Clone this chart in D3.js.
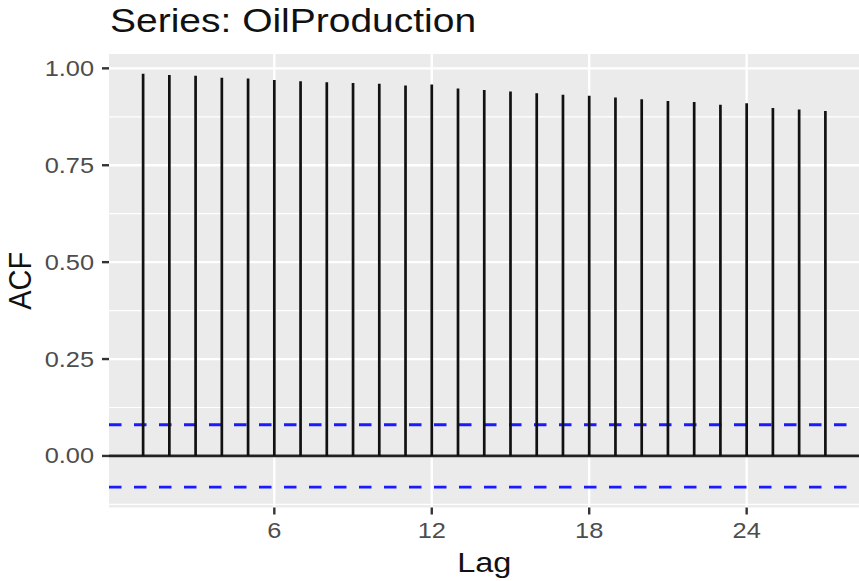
<!DOCTYPE html>
<html>
<head>
<meta charset="utf-8">
<script src="https://cdn.jsdelivr.net/npm/d3@7"></script>
<style>
  html, body { margin: 0; padding: 0; background: #fff; }
  svg { display: block; }
  text { font-family: "Liberation Sans", Arial, Helvetica, sans-serif; }
</style>
</head>
<body>
<script>
// ---- data ----
const lags = [1,2,3,4,5,6,7,8,9,10,11,12,13,14,15,16,17,18,19,20,21,22,23,24,25,26,27];
const acf  = [0.986,0.983,0.981,0.976,0.974,0.970,0.967,0.964,0.962,0.960,0.956,0.958,0.948,0.944,
              0.940,0.936,0.932,0.929,0.925,0.920,0.916,0.913,0.906,0.910,0.898,0.894,0.890];
const ciLimit = 0.0805;
const xTicks = [6,12,18,24];
const yTicks = [0,0.25,0.5,0.75,1.0];
const yTickLabels = ["0.00","0.25","0.50","0.75","1.00"];
const yMinor = [-0.125,0.125,0.375,0.625,0.875];
const titleText = "Series: OilProduction";
const xLabel = "Lag";
const yLabel = "ACF";

// ---- layout ----
const W = 859, H = 581;
const panel = {left: 109, right: 859.5, top: 54, bottom: 507.5};
const sx = 1.18; // horizontal glyph stretch of the reference

const svg = d3.select("body").append("svg").attr("width", W).attr("height", H);

const x = d3.scaleLinear().domain([-0.3, 28.3]).range([panel.left, panel.right]);
const y = d3.scaleLinear().domain([-0.133, 1.037]).range([panel.bottom, panel.top]);

// panel background
svg.append("rect")
  .attr("x", panel.left).attr("y", panel.top)
  .attr("width", panel.right - panel.left).attr("height", panel.bottom - panel.top)
  .attr("fill", "#EBEBEB");

// minor gridlines
svg.append("g").selectAll("line").data(yMinor).join("line")
  .attr("x1", panel.left).attr("x2", panel.right)
  .attr("y1", d => y(d)).attr("y2", d => y(d))
  .attr("stroke", "#fff").attr("stroke-width", 1.2);

// major gridlines
svg.append("g").selectAll("line").data(yTicks).join("line")
  .attr("x1", panel.left).attr("x2", panel.right)
  .attr("y1", d => y(d)).attr("y2", d => y(d))
  .attr("stroke", "#fff").attr("stroke-width", 2.3);
svg.append("g").selectAll("line").data(xTicks).join("line")
  .attr("y1", panel.top).attr("y2", panel.bottom)
  .attr("x1", d => x(d)).attr("x2", d => x(d))
  .attr("stroke", "#fff").attr("stroke-width", 2.3);

// confidence lines
svg.append("g").selectAll("line").data([ciLimit, -ciLimit]).join("line")
  .attr("x1", panel.left).attr("x2", panel.right)
  .attr("y1", d => y(d)).attr("y2", d => y(d))
  .attr("stroke", "#1A1AFF").attr("stroke-width", 2.9)
  .attr("stroke-dasharray", "12.5,12.5");

// zero line
svg.append("line")
  .attr("x1", panel.left).attr("x2", panel.right)
  .attr("y1", y(0)).attr("y2", y(0))
  .attr("stroke", "#222").attr("stroke-width", 2.7);

// ACF bars
svg.append("g").selectAll("line").data(lags).join("line")
  .attr("x1", d => x(d)).attr("x2", d => x(d))
  .attr("y1", y(0)).attr("y2", (d, i) => y(acf[i]))
  .attr("stroke", "#111").attr("stroke-width", 2.7);

// y axis ticks & labels
const yAx = svg.append("g");
yAx.selectAll("line").data(yTicks).join("line")
  .attr("x1", panel.left - 7).attr("x2", panel.left)
  .attr("y1", d => y(d)).attr("y2", d => y(d))
  .attr("stroke", "#333").attr("stroke-width", 2.4);
yAx.selectAll("text").data(yTicks).join("text")
  .attr("transform", d => `translate(${panel.left - 15},${y(d) + 7.5}) scale(${sx},1)`)
  .attr("text-anchor", "end")
  .attr("font-size", 21.5).attr("fill", "#4D4D4D")
  .text((d, i) => yTickLabels[i]);

// x axis ticks & labels
const xAx = svg.append("g");
xAx.selectAll("line").data(xTicks).join("line")
  .attr("x1", d => x(d)).attr("x2", d => x(d))
  .attr("y1", panel.bottom).attr("y2", panel.bottom + 7)
  .attr("stroke", "#333").attr("stroke-width", 2.4);
xAx.selectAll("text").data(xTicks).join("text")
  .attr("transform", d => `translate(${x(d)},${537.5}) scale(${sx},1)`)
  .attr("text-anchor", "middle")
  .attr("font-size", 21.5).attr("fill", "#4D4D4D")
  .text(d => d);

// axis titles
svg.append("text")
  .attr("transform", `translate(${(panel.left + panel.right) / 2},571.5) scale(${sx},1)`)
  .attr("text-anchor", "middle").attr("font-size", 27.5).attr("fill", "#111")
  .text(xLabel);
svg.append("text")
  .attr("transform", `translate(30.5,${(panel.top + panel.bottom) / 2}) scale(1.1,1) rotate(-90)`)
  .attr("text-anchor", "middle").attr("font-size", 29).attr("fill", "#111")
  .text(yLabel);

// title
svg.append("text")
  .attr("transform", `translate(110,31.5) scale(1.2,1)`)
  .attr("font-size", 32.5).attr("fill", "#111")
  .text(titleText);
</script>
</body>
</html>
